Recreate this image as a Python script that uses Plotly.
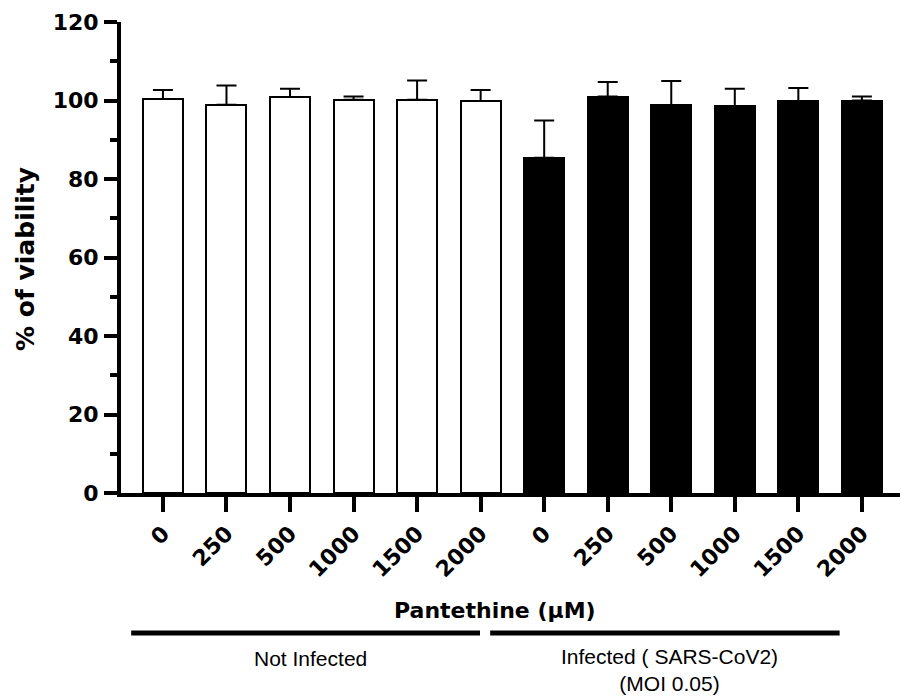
import plotly.graph_objects as go

# ---- data ----
conc_labels = ["0", "250", "500", "1000", "1500", "2000"]
not_infected_mean = [100.4, 98.9, 100.9, 100.2, 100.2, 99.9]
not_infected_err = [2.3, 4.9, 2.1, 0.8, 4.9, 2.8]
infected_mean = [85.4, 101.0, 98.8, 98.6, 99.9, 100.0]
infected_err = [9.5, 3.7, 6.2, 4.4, 3.3, 1.0]
y_ticks = [0, 20, 40, 60, 80, 100, 120]

n = len(conc_labels)
x_ni = list(range(n))
x_inf = list(range(n, 2 * n))
tick_text = conc_labels + conc_labels

BOLD = "DejaVu Sans, sans-serif"
REG = "Liberation Sans, Arial, sans-serif"

fig = go.Figure()
fig.add_trace(go.Bar(
    x=x_ni, y=not_infected_mean, width=0.63,
    marker=dict(color="white", line=dict(color="black", width=2)),
    error_y=dict(type="data", array=not_infected_err, symmetric=False,
                 arrayminus=[0] * n, color="black", thickness=2, width=10),
    showlegend=False,
))
fig.add_trace(go.Bar(
    x=x_inf, y=infected_mean, width=0.63,
    marker=dict(color="black", line=dict(color="black", width=2)),
    error_y=dict(type="data", array=infected_err, symmetric=False,
                 arrayminus=[0] * n, color="black", thickness=2, width=10),
    showlegend=False,
))

fig.update_layout(
    width=900, height=698,
    margin=dict(l=121, r=0, t=22, b=205),
    plot_bgcolor="white", paper_bgcolor="white",
    bargap=0,
    font=dict(family=REG, color="black"),
)
fig.update_xaxes(
    range=[-0.66, 11.6],
    tickmode="array", tickvals=x_ni + x_inf, ticktext=tick_text,
    tickangle=-45,
    tickfont=dict(family=BOLD, size=22, weight="bold"),
    ticks="outside", ticklen=15, tickwidth=4, tickcolor="black",
    showline=True, linewidth=4, linecolor="black",
    showgrid=False, zeroline=False,
)
fig.update_yaxes(
    range=[0, 120],
    tickmode="array", tickvals=y_ticks,
    tickfont=dict(family=BOLD, size=22, weight="bold"),
    ticks="outside", ticklen=13, tickwidth=4, tickcolor="black",
    ticklabelstandoff=1,
    minor=dict(dtick=10, ticks="outside", ticklen=7, tickwidth=4, tickcolor="black"),
    showline=True, linewidth=4, linecolor="black",
    showgrid=False, zeroline=False,
)

PW = 779
PH = 471
# y title
fig.add_annotation(text="<b>% of viability</b>", xref="paper", yref="paper",
                   x=(25 - 121) / PW, y=(493 - 259) / PH, textangle=-90, showarrow=False,
                   font=dict(family=BOLD, size=25), xanchor="center", yanchor="middle")
# x title
fig.add_annotation(text="<b>Pantethine (μM)</b>", xref="paper", yref="paper",
                   x=(495 - 121) / PW, y=-(610 - 493) / PH, showarrow=False,
                   font=dict(family=BOLD, size=22), xanchor="center", yanchor="middle")
# group bars
fig.add_shape(type="line", xref="x", yref="paper", x0=-0.5, x1=4.99,
              y0=-(633 - 493) / PH, y1=-(633 - 493) / PH,
              line=dict(color="black", width=5))
fig.add_shape(type="line", xref="x", yref="paper", x0=5.15, x1=10.65,
              y0=-(633 - 493) / PH, y1=-(633 - 493) / PH,
              line=dict(color="black", width=5))
fig.add_annotation(text="Not Infected", xref="x", yref="paper",
                   x=2.33, y=-(658 - 493) / PH, showarrow=False,
                   font=dict(family=REG, size=21), xanchor="center", yanchor="middle")
fig.add_annotation(text="Infected ( SARS-CoV2)<br>(MOI 0.05)", xref="x", yref="paper",
                   x=7.98, y=-(670 - 493) / PH, showarrow=False,
                   font=dict(family=REG, size=21), xanchor="center", yanchor="middle")

fig.write_html("out.html")
